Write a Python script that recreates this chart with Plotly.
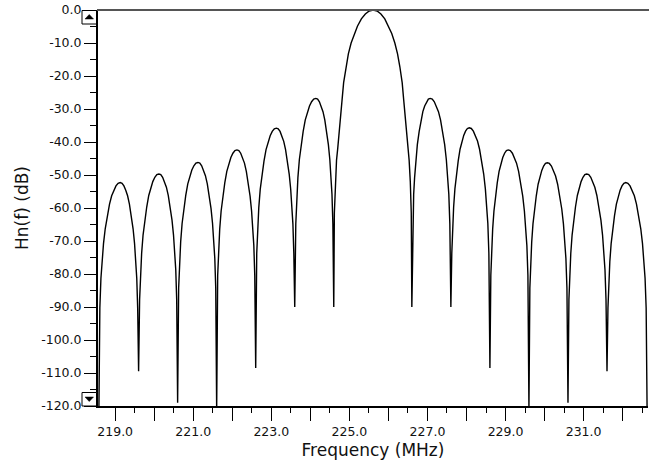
import plotly.graph_objects as go

# ---------------- data ----------------
# null positions (MHz) and the level each null drops to (dB)
NULL_FREQ_MHZ = [218.58, 219.60, 220.60, 221.60, 222.60, 223.60, 224.60,
                 226.60, 227.60, 228.60, 229.60, 230.60, 231.60, 232.63]
NULL_DEPTH_DB = [-125.0, -109.5, -119.0, -121.0, -108.5, -90.0, -90.0,
                 -90.0, -90.0, -108.5, -121.0, -119.0, -109.5, -125.0]

# lobe peaks (one lobe between each pair of consecutive nulls)
LOBE_PEAK_MHZ = [219.13, 220.12, 221.12, 222.12, 223.13, 224.14, 225.61,
                 227.07, 228.07, 229.07, 230.07, 231.08, 232.08]
LOBE_PEAK_DB = [-52.3, -49.7, -46.2, -42.4, -35.8, -26.8, 0.0,
                -26.8, -35.7, -42.4, -46.3, -49.7, -52.3]
MAIN_LOBE_INDEX = 6

# lobe outlines: fraction of the peak-to-null distance,
# and how far below the lobe peak the trace is there (dB)
SIDELOBE_U = [0.0, 0.1, 0.2, 0.3, 0.4, 0.5, 0.6, 0.7, 0.78, 0.85, 0.9, 0.95]
SIDELOBE_DROP_DB = [0.0, 0.2, 1.0, 2.3, 4.0, 6.5, 10.0, 14.0, 18.5, 24.0, 29.0, 38.0]
MAINLOBE_U = [0.0, 0.1, 0.2, 0.3, 0.4, 0.48, 0.56, 0.63, 0.69, 0.75, 0.79,
              0.83, 0.86, 0.9, 0.93, 0.96, 0.985]
MAINLOBE_DROP_DB = [0.0, 0.3, 1.2, 2.7, 4.9, 7.1, 10.0, 13.3, 17.2, 22.0, 27.3,
                    32.5, 37.4, 42.0, 45.5, 52.0, 61.5]

# axis ticks
X_MAJOR_TICKS = [219, 220, 221, 222, 223, 224, 225, 226, 227, 228, 229, 230, 231, 232]
X_TICK_LABELS = ["219.0", "", "221.0", "", "223.0", "", "225.0", "", "227.0", "",
                 "229.0", "", "231.0", ""]
X_MINOR_TICKS = [218.5, 219.5, 220.5, 221.5, 222.5, 223.5, 224.5, 225.5, 226.5,
                 227.5, 228.5, 229.5, 230.5, 231.5, 232.5]
Y_MAJOR_TICKS = [0, -10, -20, -30, -40, -50, -60, -70, -80, -90, -100, -110, -120]
Y_TICK_LABELS = ["0.0", "-10.0", "-20.0", "-30.0", "-40.0", "-50.0", "-60.0",
                 "-70.0", "-80.0", "-90.0", "-100.0", "-110.0", "-120.0"]
Y_MINOR_TICKS = [-5, -15, -25, -35, -45, -55, -65, -75, -85, -95, -105, -115]

# ---------------- assemble the trace ----------------
freq, level = [NULL_FREQ_MHZ[0]], [NULL_DEPTH_DB[0]]
for i, (pf, pdb) in enumerate(zip(LOBE_PEAK_MHZ, LOBE_PEAK_DB)):
    left, right = NULL_FREQ_MHZ[i], NULL_FREQ_MHZ[i + 1]
    if i == MAIN_LOBE_INDEX:
        us, drops = MAINLOBE_U, MAINLOBE_DROP_DB
    else:
        us, drops = SIDELOBE_U, SIDELOBE_DROP_DB
    for u, d in zip(reversed(us), reversed(drops)):
        freq.append(pf - u * (pf - left))
        level.append(pdb - d)
    for u, d in zip(us[1:], drops[1:]):
        freq.append(pf + u * (right - pf))
        level.append(pdb - d)
    freq.append(right)
    level.append(NULL_DEPTH_DB[i + 1])

FONT = "DejaVu Sans"

FIG_W, FIG_H = 657, 466
M_L, M_R, M_T, M_B = 98, 9, 10, 60
PLOT_W = FIG_W - M_L - M_R
PLOT_H = FIG_H - M_T - M_B


def px_x(dx):
    return dx / PLOT_W


def px_y_top(dy):
    return 1 - dy / PLOT_H


def px_y_bot(dy):
    return dy / PLOT_H


def tri(points):
    return "M" + " L".join(f"{x:.5f},{y:.5f}" for x, y in points) + " Z"


btn_line = dict(color="black", width=1)
shapes = [
    # top border line (grey)
    dict(type="line", xref="paper", yref="paper", x0=px_x(-1), x1=px_x(PLOT_W + 1),
         y0=1, y1=1, line=dict(color="#555", width=2), layer="above"),
    # scroll buttons at the ends of the y axis
    dict(type="rect", xref="paper", yref="paper",
         x0=px_x(-16), x1=px_x(-1.5), y0=px_y_top(14), y1=px_y_top(0.5),
         line=btn_line, fillcolor="white", layer="above"),
    dict(type="path", xref="paper", yref="paper",
         path=tri([(px_x(-13), px_y_top(9)), (px_x(-4.5), px_y_top(9)),
                   (px_x(-8.75), px_y_top(4.5))]),
         line=dict(color="black", width=0.5), fillcolor="black", layer="above"),
    dict(type="rect", xref="paper", yref="paper",
         x0=px_x(-16), x1=px_x(-1.5), y0=px_y_bot(0), y1=px_y_bot(13.5),
         line=btn_line, fillcolor="white", layer="above"),
    dict(type="path", xref="paper", yref="paper",
         path=tri([(px_x(-13), px_y_bot(9)), (px_x(-4.5), px_y_bot(9)),
                   (px_x(-8.75), px_y_bot(4.5))]),
         line=dict(color="black", width=0.5), fillcolor="black", layer="above"),
]

fig = go.Figure()
fig.add_trace(go.Scatter(x=freq, y=level, mode="lines",
                         line=dict(color="black", width=1.4),
                         hoverinfo="skip", showlegend=False))

fig.update_layout(
    template="none",
    width=FIG_W, height=FIG_H,
    margin=dict(l=M_L, r=M_R, t=M_T, b=M_B, autoexpand=False),
    paper_bgcolor="white", plot_bgcolor="white",
    font=dict(family=FONT, size=12, color="#111"),
    hovermode=False,
    xaxis=dict(
        range=[218.56, 232.65], showgrid=False, zeroline=False, automargin=False,
        showline=True, linecolor="black", linewidth=2,
        tickmode="array", tickvals=X_MAJOR_TICKS, ticktext=X_TICK_LABELS,
        ticks="outside", ticklen=13, tickwidth=1, tickcolor="black",
        minor=dict(tickmode="array", tickvals=X_MINOR_TICKS, ticks="outside",
                   ticklen=5, tickwidth=1, tickcolor="black", showgrid=False),
        tickfont=dict(family=FONT, size=12.5, color="#111"),
        title=dict(text="Frequency (MHz)", standoff=6,
                   font=dict(family=FONT, size=17, color="#111")),
    ),
    yaxis=dict(
        range=[-120, 0], showgrid=False, zeroline=False, automargin=False,
        showline=True, linecolor="black", linewidth=2,
        tickmode="array", tickvals=Y_MAJOR_TICKS, ticktext=Y_TICK_LABELS,
        ticks="outside", ticklen=12, tickwidth=1, tickcolor="black",
        minor=dict(tickmode="array", tickvals=Y_MINOR_TICKS, ticks="outside",
                   ticklen=6, tickwidth=1, tickcolor="black", showgrid=False),
        tickfont=dict(family=FONT, size=12.5, color="#111"),
        title=dict(text="Hn(f) (dB)", standoff=8,
                   font=dict(family=FONT, size=17, color="#111")),
    ),
    shapes=shapes,
)

# remove the browser's default 8px page margin so the figure sits at (0, 0)
fig.write_html("out.html",
               config={"displayModeBar": False, "staticPlot": True},
               post_script="document.body.style.margin='0px';"
                           "document.body.style.overflow='hidden';")
